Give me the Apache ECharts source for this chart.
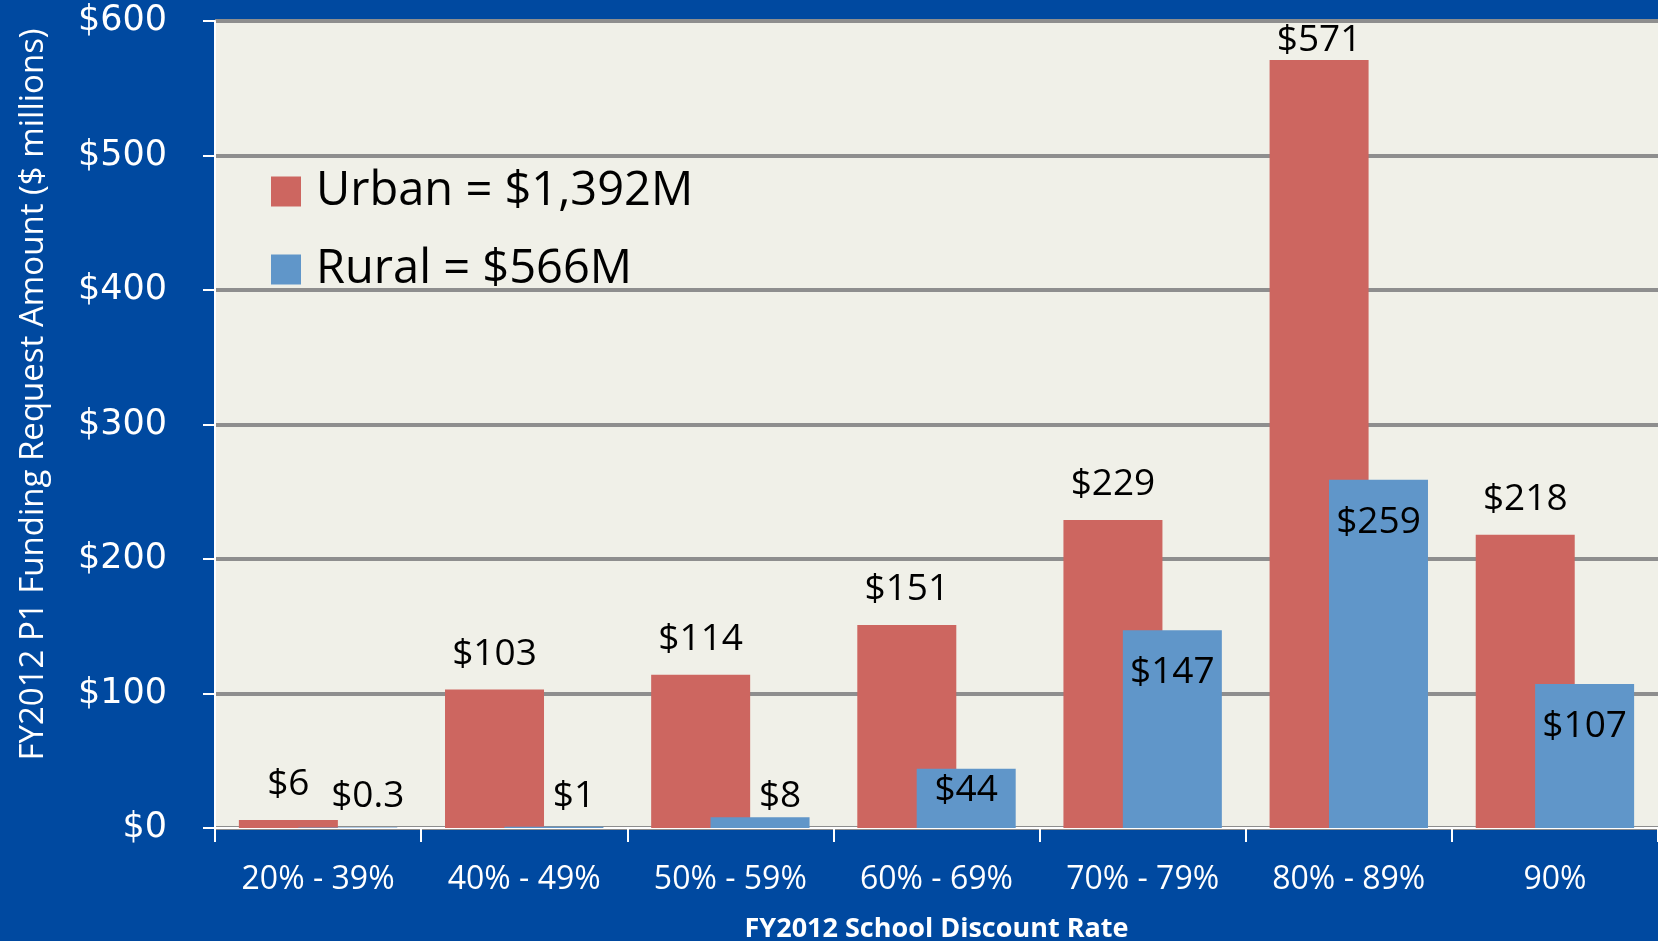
<!DOCTYPE html>
<html>
<head>
<meta charset="utf-8">
<script src="https://cdn.jsdelivr.net/npm/echarts@6/dist/echarts.min.js"></script>
<style>
html, body { margin: 0; padding: 0; background: #0049A0; }
#chart { width: 1658px; height: 941px; }
</style>
</head>
<body>
<div id="chart"></div>
<script>
var categories = ['20% - 39%', '40% - 49%', '50% - 59%', '60% - 69%', '70% - 79%', '80% - 89%', '90%'];
var urban = [6, 103, 114, 151, 229, 571, 218];
var rural = [0.3, 1, 8, 44, 147, 259, 107];
var urbanName = 'Urban = $1,392M';
var ruralName = 'Rural = $566M';

// urban labels sit above the bar, except the tallest which is pushed down to stay in the plot
function urbanData(values) {
    var out = [];
    for (var i = 0; i < values.length; i++) {
        out.push({
            value: values[i],
            label: { position: 'top', distance: values[i] > 540 ? 1 : 17 }
        });
    }
    return out;
}

// rural labels: tiny bars get a label just above the axis, others inside the top
function ruralData(values) {
    var out = [];
    for (var i = 0; i < values.length; i++) {
        var v = values[i];
        var label;
        if (v < 20) {
            label = { position: 'insideBottom', distance: 13, offset: [20, 0] };
        } else if (v < 60) {
            label = { position: 'insideTop', distance: 3 };
        } else {
            label = { position: 'insideTop', distance: 24 };
        }
        out.push({ value: v, label: label });
    }
    return out;
}

var myChart = echarts.init(document.getElementById('chart'));
var option = {
    backgroundColor: '#0049A0',
    animation: false,
    grid: {
        left: 215,
        right: 0,
        top: 21,
        bottom: 113,
        outerBoundsMode: 'none',
        show: true,
        backgroundColor: '#F0F0E8',
        borderWidth: 0
    },
    legend: {
        orient: 'vertical',
        left: 266,
        top: 163,
        itemWidth: 30,
        itemHeight: 30,
        itemGap: 31,
        icon: 'rect',
        textStyle: {
            fontFamily: 'Open Sans',
            fontSize: 47,
            color: '#000',
            lineHeight: 30,
            padding: [0, 0, 0, 10]
        },
        data: [urbanName, ruralName]
    },
    xAxis: {
        type: 'category',
        data: categories,
        name: 'FY2012 School Discount Rate',
        nameLocation: 'middle',
        nameGap: 88,
        nameTextStyle: {
            fontFamily: 'Open Sans',
            fontWeight: 'bold',
            fontSize: 27,
            color: '#fff'
        },
        axisLine: { lineStyle: { color: '#fff', width: 2 } },
        axisTick: { show: true, length: 14, lineStyle: { color: '#fff', width: 2 } },
        axisLabel: {
            margin: 36,
            fontFamily: 'Open Sans',
            fontSize: 32,
            color: '#fff'
        }
    },
    yAxis: {
        type: 'value',
        min: 0,
        max: 600,
        interval: 100,
        name: 'FY2012 P1 Funding Request Amount ($ millions)',
        nameLocation: 'middle',
        nameGap: 165,
        nameTextStyle: {
            fontFamily: 'Open Sans',
            fontSize: 33,
            color: '#fff',
            padding: [0, 0, 0, 60]
        },
        axisLine: { show: true, lineStyle: { color: '#fff', width: 2 } },
        axisTick: { show: true, length: 12, lineStyle: { color: '#fff', width: 2 } },
        axisLabel: {
            margin: 48,
            padding: [16, 0, 0, 0],
            fontFamily: 'DejaVu Sans',
            fontSize: 35,
            color: '#fff',
            formatter: '${value}'
        },
        splitLine: { lineStyle: { color: '#8E8E8E', width: 4 } }
    },
    series: [
        {
            name: urbanName,
            type: 'bar',
            barWidth: 99,
            barGap: '-40%',
            itemStyle: { color: '#CD6660' },
            label: {
                show: true,
                formatter: '${c}',
                fontFamily: 'Open Sans',
                fontSize: 37,
                color: '#000'
            },
            data: urbanData(urban)
        },
        {
            name: ruralName,
            type: 'bar',
            barWidth: 99,
            barGap: '-40%',
            itemStyle: { color: '#6096C9' },
            label: {
                show: true,
                formatter: '${c}',
                fontFamily: 'Open Sans',
                fontSize: 37,
                color: '#000'
            },
            data: ruralData(rural)
        }
    ]
};
myChart.setOption(option);
</script>
</body>
</html>
